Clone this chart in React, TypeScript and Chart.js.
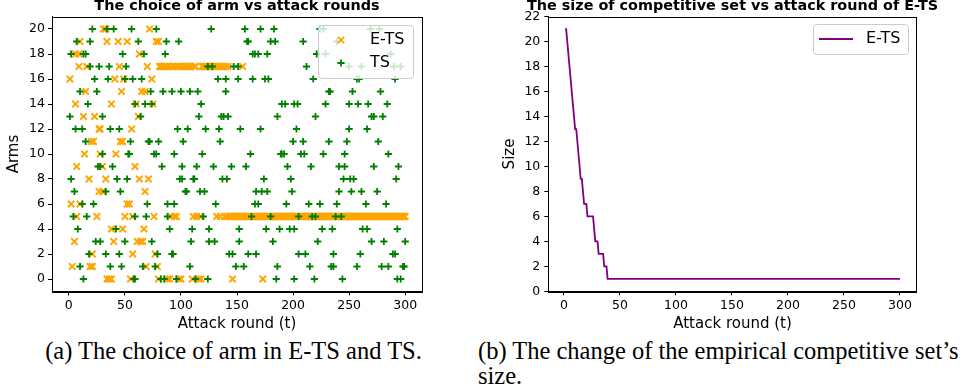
import React, { useEffect, useRef } from "react";
import { Chart, registerables } from "chart.js";

Chart.register(...registerables);

// ---------- tick labels ----------
const roundTicks = [0, 50, 100, 150, 200, 250, 300];
const armTicks = [0, 2, 4, 6, 8, 10, 12, 14, 16, 18, 20];
const sizeTicks = [0, 2, 4, 6, 8, 10, 12, 14, 16, 18, 20, 22];

// ---------- (a) arm chosen by E-TS, rounds listed per arm (index = arm) ----------
const etsRoundsByArm: number[][] = [
  [34, 36, 38, 55, 80, 88, 90, 98, 100, 110, 116, 118, 146, 173],
  [3, 19, 21, 69, 79],
  [21, 57, 77],
  [5, 40, 61, 64, 66],
  [38, 48, 67],
  [7, 25, 50, 57, 76, 91, 94, 96, 111, 114, 117, 132, 135, 139, 141, 143, 144, 145,
    147, 148, 149, 150, 151, 152, 153, 154,
    156, 157, 158, 159, 160, 161, 162, 163, 164, 165, 166, 167, 168, 169, 170, 171, 172,
    174, 175, 176, 177, 178, 179, 180, 181, 182, 183, 184, 185, 186, 187, 188, 189, 190,
    191, 192, 193, 194, 195, 196, 197, 198, 199, 200, 201, 202, 203, 204, 205, 206, 207,
    208, 209, 210, 211, 212, 213, 214, 215, 216, 217, 218, 219, 220, 221, 222, 223, 224,
    225, 226, 227, 228, 229, 230, 231, 232, 233, 234, 235, 236, 237, 238, 239, 240, 241,
    242, 243, 244, 245, 246, 247, 248, 249, 250, 251, 252, 253, 254, 255, 256, 257, 258,
    259, 260, 261, 262, 263, 264, 265, 266, 267, 268, 269, 270, 271, 272, 273, 274, 275,
    276, 277, 278, 279, 280, 281, 282, 283, 284, 285, 286, 287, 288, 289, 290, 291, 292,
    293, 294, 295, 296, 297, 298, 299, 300],
  [2, 10, 52, 54],
  [27, 30, 68],
  [18, 33, 63, 71],
  [7, 30, 59],
  [14, 28, 42],
  [20, 22, 46, 48],
  [27, 28, 56],
  [13, 23, 62],
  [6, 38, 60, 75],
  [15, 47, 65, 68],
  [1, 41, 49, 74],
  [9, 16, 45, 70, 81, 82, 83, 84, 85, 86, 87, 89, 92, 93, 95, 97, 99,
    101, 102, 103, 104, 105, 106, 107, 108, 109, 112, 113,
    119, 120, 121, 122, 123, 124, 125, 126, 127, 128, 129, 130, 131, 133, 134, 136, 137,
    138, 140, 142, 155],
  [6, 9, 63],
  [10, 34, 44, 52, 78, 80],
  [31, 33, 72],
];

// ---------- (a) arm chosen by TS, rounds listed per arm (index = arm) ----------
const tsRoundsByArm: number[][] = [
  [13, 58, 59, 82, 85, 96, 113, 124, 185, 201, 219, 244, 293, 296],
  [10, 37, 47, 66, 77, 108, 149, 156, 186, 215, 234, 236, 257, 279, 285, 298, 299],
  [18, 33, 45, 79, 92, 93, 143, 146, 160, 167, 205, 211, 236, 260, 289, 291],
  [24, 28, 50, 74, 109, 125, 130, 152, 182, 222, 270, 281, 300],
  [8, 42, 90, 110, 125, 152, 176, 188, 197, 201, 226, 235, 262, 266, 293],
  [4, 16, 59, 69, 88, 120, 163, 180, 205, 217, 220, 238, 243],
  [12, 22, 70, 88, 94, 131, 166, 169, 194, 214, 224, 239, 265, 283],
  [5, 33, 46, 104, 105, 117, 121, 167, 172, 177, 199, 241, 252, 261, 275],
  [2, 43, 52, 99, 101, 111, 112, 137, 141, 174, 198, 245, 251, 254, 292],
  [26, 28, 39, 83, 101, 114, 129, 145, 158, 195, 216, 241, 246, 272, 294],
  [30, 53, 54, 76, 78, 94, 119, 162, 189, 190, 192, 207, 210, 227, 246, 285],
  [15, 55, 71, 72, 80, 102, 135, 200, 209, 232, 248, 276],
  [6, 12, 37, 45, 97, 106, 122, 134, 153, 171, 203, 250, 266],
  [1, 30, 64, 116, 136, 138, 142, 186, 220, 270, 272, 280],
  [17, 59, 68, 74, 118, 190, 193, 201, 204, 229, 250, 258, 267, 284],
  [10, 25, 73, 84, 92, 100, 108, 115, 140, 232, 233, 253, 278],
  [23, 35, 50, 57, 65, 133, 140, 151, 164, 175, 178, 218, 257, 259, 291],
  [19, 27, 36, 51, 124, 128, 147, 151, 212, 250, 261, 290, 296],
  [2, 13, 15, 48, 67, 86, 164, 166, 169, 177, 221, 229, 287],
  [7, 19, 62, 87, 98, 159, 160, 180, 184, 209, 239],
  [21, 34, 40, 56, 78, 127, 157, 171, 183, 224, 227, 269, 277],
];

// ---------- (b) competitive-set size of E-TS ----------
const sizeRounds = [1, 2, 3, 4, 5, 6, 7, 8, 9, 10, 11, 12, 13, 14, 15, 16, 17, 18, 19, 20,
  21, 22, 23, 24, 25, 26, 27, 28, 29, 30, 31, 32, 33, 34, 35, 36, 37, 38, 39, 300];
const sizeValues = [21, 21, 20, 19, 18, 17, 16, 15, 14, 13, 13, 12, 11, 10, 9, 9, 8, 7, 7, 7,
  6, 6, 6, 6, 6, 6, 5, 4, 4, 4, 3, 3, 3, 3, 3, 2, 2, 2, 1, 1];

const FONT = "DejaVu Sans";
const ORANGE = "#ffa500";
const GREEN = "#008000";
const PURPLE = "#800080";

function toPoints(byArm: number[][]) {
  const pts: { x: number; y: number }[] = [];
  byArm.forEach((rounds, arm) => rounds.forEach((t) => pts.push({ x: t, y: arm })));
  return pts;
}

const framePlugin = {
  id: "frame",
  afterDatasetsDraw(chart: any) {
    const { ctx, chartArea: a } = chart;
    ctx.save();
    ctx.strokeStyle = "#000";
    ctx.lineWidth = 1;
    ctx.strokeRect(Math.round(a.left) + 0.5, Math.round(a.top) + 0.5,
      Math.round(a.right - a.left), Math.round(a.bottom - a.top));
    ctx.restore();
  },
};

function roundRectPath(ctx: CanvasRenderingContext2D, x: number, y: number, w: number, h: number, r: number) {
  ctx.beginPath();
  ctx.moveTo(x + r, y);
  ctx.lineTo(x + w - r, y);
  ctx.arcTo(x + w, y, x + w, y + r, r);
  ctx.lineTo(x + w, y + h - r);
  ctx.arcTo(x + w, y + h, x + w - r, y + h, r);
  ctx.lineTo(x + r, y + h);
  ctx.arcTo(x, y + h, x, y + h - r, r);
  ctx.lineTo(x, y + r);
  ctx.arcTo(x, y, x + r, y, r);
  ctx.closePath();
}

function legendBox(ctx: CanvasRenderingContext2D, x: number, y: number, w: number, h: number) {
  roundRectPath(ctx, x + 0.5, y + 0.5, w, h, 3);
  ctx.fillStyle = "rgba(255,255,255,0.8)";
  ctx.fill();
  ctx.strokeStyle = "#cccccc";
  ctx.lineWidth = 1;
  ctx.stroke();
}

const scatterLegend = {
  id: "scatterLegend",
  afterDraw(chart: any) {
    const ctx: CanvasRenderingContext2D = chart.ctx;
    ctx.save();
    legendBox(ctx, 318, 25, 95, 53);
    ctx.lineWidth = 1.8;
    ctx.strokeStyle = ORANGE;
    const d = 3.2;
    ctx.beginPath();
    ctx.moveTo(341 - d, 40 - d); ctx.lineTo(341 + d, 40 + d);
    ctx.moveTo(341 - d, 40 + d); ctx.lineTo(341 + d, 40 - d);
    ctx.stroke();
    ctx.strokeStyle = GREEN;
    const p = 3.6;
    ctx.beginPath();
    ctx.moveTo(341 - p, 63); ctx.lineTo(341 + p, 63);
    ctx.moveTo(341, 63 - p); ctx.lineTo(341, 63 + p);
    ctx.stroke();
    ctx.fillStyle = "#000";
    ctx.font = `16px "${FONT}"`;
    ctx.textBaseline = "middle";
    ctx.fillText("E-TS", 370, 40);
    ctx.fillText("TS", 370, 63);
    ctx.restore();
  },
};

const lineLegend = {
  id: "lineLegend",
  afterDraw(chart: any) {
    const ctx: CanvasRenderingContext2D = chart.ctx;
    ctx.save();
    legendBox(ctx, 323, 24, 95, 30);
    ctx.strokeStyle = PURPLE;
    ctx.lineWidth = 1.8;
    ctx.beginPath();
    ctx.moveTo(329, 39); ctx.lineTo(363, 39);
    ctx.stroke();
    ctx.fillStyle = "#000";
    ctx.font = `16px "${FONT}"`;
    ctx.textBaseline = "middle";
    ctx.fillText("E-TS", 376, 39);
    ctx.restore();
  },
};

function axisCommon(tickValues: number[], min: number, max: number, tickPad: number) {
  return {
    type: "linear" as const,
    min,
    max,
    afterBuildTicks: (scale: any) => {
      scale.ticks = tickValues.map((v) => ({ value: v }));
    },
    grid: { display: true, drawOnChartArea: false, drawTicks: true, tickLength: 4, color: "#000", lineWidth: 1 },
    border: { display: true, color: "#000", width: 1 },
    ticks: { color: "#000", font: { family: FONT, size: 12.5 }, padding: tickPad, autoSkip: false, maxRotation: 0 },
  };
}

function ScatterChart() {
  const ref = useRef<HTMLCanvasElement>(null);
  useEffect(() => {
    const chart = new Chart(ref.current as HTMLCanvasElement, {
      type: "scatter",
      data: {
        datasets: [
          {
            label: "TS",
            data: toPoints(tsRoundsByArm),
            pointStyle: "cross",
            radius: 3.6,
            borderColor: GREEN,
            backgroundColor: GREEN,
            borderWidth: 1.8,
            order: 0,
          },
          {
            label: "E-TS",
            data: toPoints(etsRoundsByArm),
            pointStyle: "crossRot",
            radius: 4.6,
            borderColor: ORANGE,
            backgroundColor: ORANGE,
            borderWidth: 1.8,
            order: 1,
          },
        ],
      },
      options: {
        animation: false,
        responsive: false,
        devicePixelRatio: 1,
        events: [],
        layout: { padding: { left: 0, top: 16.5, right: 48, bottom: 0 } },
        plugins: { legend: { display: false }, tooltip: { enabled: false }, title: { display: false } },
        scales: {
          x: {
            ...axisCommon(roundTicks, -15, 315, 3),
            afterFit: (s: any) => { s.height = 43.5; },
            title: { display: true, text: "Attack round (t)", color: "#000", font: { family: FONT, size: 15 }, padding: { top: 0, bottom: 2 } },
          },
          y: {
            ...axisCommon(armTicks, -1, 21, 3),
            afterFit: (s: any) => { s.width = 52; },
            title: { display: true, text: "Arms", color: "#000", font: { family: FONT, size: 15 }, padding: { top: 5.5, bottom: 0 } },
          },
        },
      } as any,
      plugins: [framePlugin, scatterLegend],
    });
    return () => chart.destroy();
  }, []);
  return <canvas ref={ref} width={470} height={335} style={{ position: "absolute", left: 0, top: 0 }} />;
}

function SizeChart() {
  const ref = useRef<HTMLCanvasElement>(null);
  useEffect(() => {
    const chart = new Chart(ref.current as HTMLCanvasElement, {
      type: "line",
      data: {
        datasets: [
          {
            label: "E-TS",
            data: sizeRounds.map((t, i) => ({ x: t, y: sizeValues[i] })),
            borderColor: PURPLE,
            backgroundColor: PURPLE,
            borderWidth: 1.8,
            pointRadius: 0,
            tension: 0,
            fill: false,
          },
        ],
      },
      options: {
        animation: false,
        responsive: false,
        devicePixelRatio: 1,
        events: [],
        layout: { padding: { left: 0, top: 16.7, right: 57.3, bottom: 0 } },
        plugins: { legend: { display: false }, tooltip: { enabled: false }, title: { display: false } },
        scales: {
          x: {
            ...axisCommon(roundTicks, -13.95, 314.95, 3),
            afterFit: (s: any) => { s.height = 43.7; },
            title: { display: true, text: "Attack round (t)", color: "#000", font: { family: FONT, size: 15 }, padding: { top: 0, bottom: 2 } },
          },
          y: {
            ...axisCommon(sizeTicks, 0, 22, 4),
            afterFit: (s: any) => { s.width = 58.3; },
            title: { display: true, text: "Size", color: "#000", font: { family: FONT, size: 15 }, padding: { top: 11, bottom: 0 } },
          },
        },
      } as any,
      plugins: [framePlugin, lineLegend],
    });
    return () => chart.destroy();
  }, []);
  return <canvas ref={ref} width={484} height={335} style={{ position: "absolute", left: 490, top: 0 }} />;
}

const titleStyle: React.CSSProperties = {
  position: "absolute",
  top: -1.8,
  transform: "translateX(-50%)",
  whiteSpace: "nowrap",
  fontFamily: FONT,
  fontWeight: "bold",
  fontSize: 14.4,
  lineHeight: "14px",
  color: "#000",
};

const captionStyle: React.CSSProperties = {
  position: "absolute",
  whiteSpace: "nowrap",
  fontFamily: '"Liberation Serif", serif',
  fontSize: 24.5,
  lineHeight: "25px",
  color: "#000",
};

export default function App() {
  return (
    <div style={{ position: "absolute", left: 0, top: 0, width: 974, height: 391, background: "#fff", overflow: "hidden" }}>
      <ScatterChart />
      <SizeChart />
      <div style={{ ...titleStyle, left: 237 }}>The choice of arm vs attack rounds</div>
      <div style={{ ...titleStyle, left: 732.5 }}>The size of competitive set vs attack round of E-TS</div>
      <div style={{ ...captionStyle, left: 0, width: 467, top: 338, textAlign: "center" }}>
        (a) The choice of arm in E-TS and TS.
      </div>
      <div style={{ ...captionStyle, left: 478, top: 338 }}>
        (b) The change of the empirical competitive set’s
        <br />
        size.
      </div>
    </div>
  );
}
